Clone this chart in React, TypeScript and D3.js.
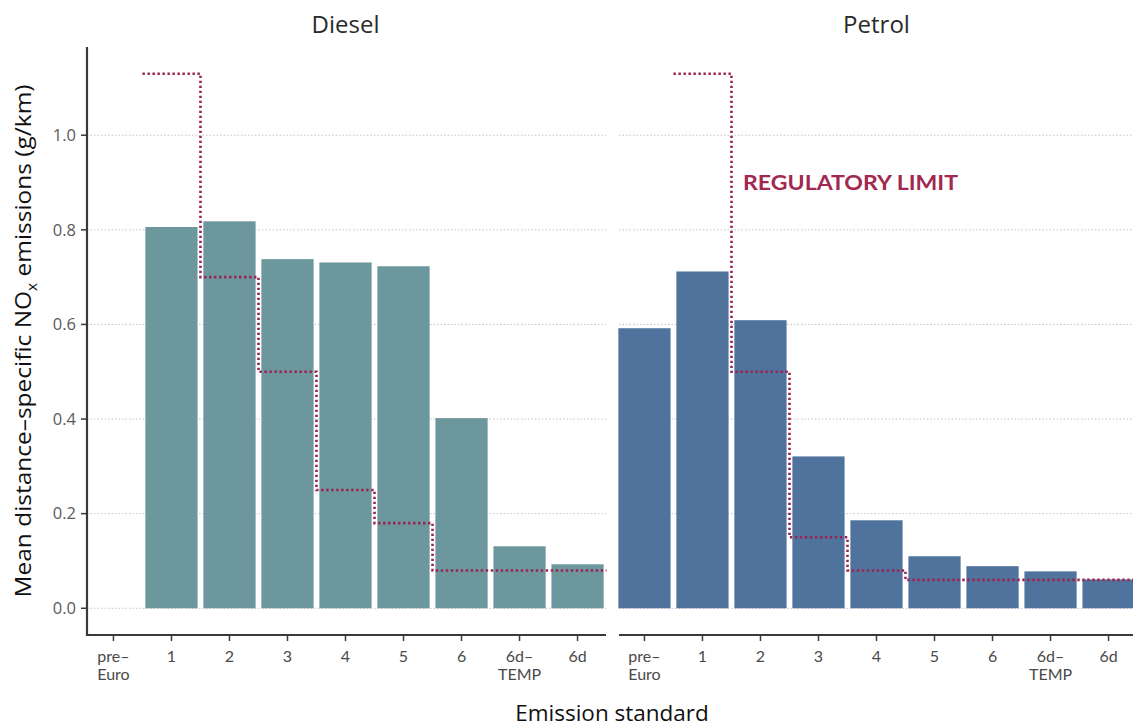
import React from "react";
import * as d3 from "d3";

const categories = ["pre-Euro", "1", "2", "3", "4", "5", "6", "6d-TEMP", "6d"];
const tickLabels: string[][] = [["pre–", "Euro"], ["1"], ["2"], ["3"], ["4"], ["5"], ["6"], ["6d–", "TEMP"], ["6d"]];
const dieselValues: (number | null)[] = [null, 0.806, 0.818, 0.738, 0.731, 0.723, 0.402, 0.131, 0.093];
const petrolValues: (number | null)[] = [0.592, 0.712, 0.609, 0.321, 0.186, 0.110, 0.089, 0.078, 0.061];
const dieselLimit: (number | null)[] = [null, 1.13, 0.70, 0.50, 0.25, 0.18, 0.08, 0.08, 0.08];
const petrolLimit: (number | null)[] = [null, 1.13, 0.50, 0.15, 0.08, 0.06, 0.06, 0.06, 0.06];
const yTicks = [0, 0.2, 0.4, 0.6, 0.8, 1.0];
const panelTitles = ["Diesel", "Petrol"];

const W = 1133;
const H = 727;
const FONT = "'Open Sans', Lato, sans-serif";
const TICK_FONT = "Lato, 'Open Sans', sans-serif";
const LIMIT_COLOR = "#9b2352";

const y = d3.scaleLinear().domain([-0.0565, 1.1865]).range([635, 47]);

type PanelProps = {
  range: [number, number];
  values: (number | null)[];
  limits: (number | null)[];
  color: string;
  title: string;
  axisStart: number;
  axisEnd: number;
  showYAxis: boolean;
};

function Panel({ range, values, limits, color, title, axisStart, axisEnd, showYAxis }: PanelProps) {
  const x = d3.scaleBand<string>().domain(categories).range(range).paddingInner(0.1).paddingOuter(0.075);
  const step = x.step();
  const bw = x.bandwidth();
  const center = (c: string) => (x(c) as number) + bw / 2;

  const pts: [number, number][] = [];
  categories.forEach((c, i) => {
    const v = limits[i];
    if (v == null) return;
    const cx = center(c);
    pts.push([cx - step / 2, y(v)]);
    pts.push([cx + step / 2, y(v)]);
  });
  const limitPath = d3.line()(pts) || "";

  return (
    <g>
      {yTicks.map((t) => (
        <line
          key={t}
          x1={axisStart}
          x2={axisEnd}
          y1={y(t)}
          y2={y(t)}
          stroke="#c4c4c4"
          strokeWidth={1}
          strokeDasharray="1.5 2"
        />
      ))}
      {categories.map((c, i) => {
        const v = values[i];
        if (v == null) return null;
        return <rect key={c} x={x(c)} y={y(v)} width={bw} height={y(0) - y(v)} fill={color} />;
      })}
      <path d={limitPath} fill="none" stroke={LIMIT_COLOR} strokeWidth={2.6} strokeDasharray="2.4 2.6" />
      <line x1={axisStart} x2={axisEnd} y1={635} y2={635} stroke="#3a3a3a" strokeWidth={2.2} />
      {categories.map((c, i) => (
        <g key={c}>
          <line x1={center(c)} x2={center(c)} y1={635} y2={641} stroke="#3a3a3a" strokeWidth={1.5} />
          {tickLabels[i].map((ln, j) => (
            <text
              key={j}
              x={center(c)}
              y={662 + j * 17.5}
              textAnchor="middle"
              fontFamily={TICK_FONT}
              fontSize={16}
              fill="#4a4a4a"
            >
              {ln}
            </text>
          ))}
        </g>
      ))}
      {showYAxis && (
        <g>
          <line x1={87} x2={87} y1={47} y2={636} stroke="#3a3a3a" strokeWidth={2.2} />
          {yTicks.map((t) => (
            <g key={t}>
              <line x1={81} x2={87} y1={y(t)} y2={y(t)} stroke="#3a3a3a" strokeWidth={1.5} />
              <text
                x={76}
                y={y(t)}
                dy="0.35em"
                textAnchor="end"
                fontFamily={FONT}
                fontSize={16.5}
                fill="#5a5a5a"
              >
                {d3.format(".1f")(t)}
              </text>
            </g>
          ))}
        </g>
      )}
      <text
        x={(range[0] + range[1]) / 2}
        y={33}
        textAnchor="middle"
        fontFamily={FONT}
        fontSize={24}
        fill="#2a2a2a"
      >
        {title}
      </text>
    </g>
  );
}

export default function App() {
  return (
    <svg
      width={W}
      height={H}
      viewBox={`0 0 ${W} ${H}`}
      style={{ position: "absolute", left: 0, top: 0, background: "#fff" }}
    >
      <rect x={0} y={0} width={W} height={H} fill="#fff" />
      <Panel
        range={[83, 608]}
        values={dieselValues}
        limits={dieselLimit}
        color="#6b979d"
        title={panelTitles[0]}
        axisStart={87}
        axisEnd={606}
        showYAxis={true}
      />
      <Panel
        range={[614, 1139]}
        values={petrolValues}
        limits={petrolLimit}
        color="#50739d"
        title={panelTitles[1]}
        axisStart={619}
        axisEnd={1140}
        showYAxis={false}
      />
      <text
        x={743}
        y={190}
        fontFamily="Lato, sans-serif"
        fontWeight={700}
        fontSize={21}
        fill="#a3284f"
        textLength={215}
        lengthAdjust="spacingAndGlyphs"
      >
        REGULATORY LIMIT
      </text>
      <text
        transform={`translate(31, ${341}) rotate(-90)`}
        textAnchor="middle"
        fontFamily={FONT}
        fontSize={22}
        fill="#111"
        textLength={513}
        lengthAdjust="spacingAndGlyphs"
      >
        Mean distance–specific NO
        <tspan fontSize={14} dy={6}>x</tspan>
        <tspan dy={-6}> emissions (g/km)</tspan>
      </text>
      <text x={612} y={721} textAnchor="middle" fontFamily={FONT} fontSize={22.5} fill="#111">
        Emission standard
      </text>
    </svg>
  );
}
